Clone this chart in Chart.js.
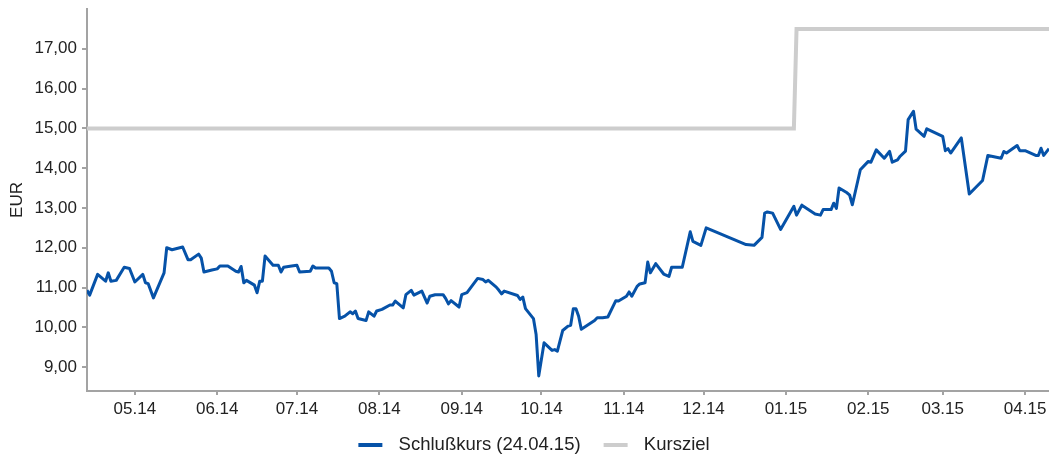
<!DOCTYPE html>
<html>
<head>
<meta charset="utf-8">
<script src="https://cdn.jsdelivr.net/npm/chart.js@4/dist/chart.umd.min.js"></script>
<style>
  html, body { margin: 0; padding: 0; background: #ffffff; }
  #wrap { width: 1049px; height: 454px; }
</style>
</head>
<body>
<div id="wrap"><canvas id="c" width="1049" height="454"></canvas></div>
<script>
const closeLabel = 'Schlußkurs (24.04.15)';
const targetLabel = 'Kursziel';
const yAxisTitle = 'EUR';

const closeDates = [
  '2014-04-13','2014-04-14','2014-04-17','2014-04-20','2014-04-21','2014-04-22','2014-04-24','2014-04-27','2014-04-29',
  '2014-05-01','2014-05-04','2014-05-05','2014-05-06','2014-05-08','2014-05-12','2014-05-13','2014-05-15','2014-05-19',
  '2014-05-21','2014-05-22','2014-05-25','2014-05-26','2014-05-27','2014-05-30',
  '2014-06-01','2014-06-02','2014-06-05','2014-06-08','2014-06-09','2014-06-10','2014-06-11','2014-06-12','2014-06-15',
  '2014-06-16','2014-06-17','2014-06-18','2014-06-19','2014-06-22','2014-06-24','2014-06-25','2014-06-26','2014-06-29',
  '2014-07-01','2014-07-02','2014-07-06','2014-07-07','2014-07-08','2014-07-13','2014-07-14','2014-07-15','2014-07-16',
  '2014-07-17','2014-07-19','2014-07-21','2014-07-22','2014-07-23','2014-07-24','2014-07-27','2014-07-28','2014-07-30','2014-07-31',
  '2014-08-02','2014-08-05','2014-08-06','2014-08-07','2014-08-10','2014-08-11','2014-08-13','2014-08-14','2014-08-17',
  '2014-08-19','2014-08-20','2014-08-22','2014-08-25','2014-08-26','2014-08-27','2014-08-28','2014-08-31',
  '2014-09-01','2014-09-03','2014-09-07','2014-09-09','2014-09-10','2014-09-11','2014-09-14','2014-09-15','2014-09-16',
  '2014-09-17','2014-09-22','2014-09-23','2014-09-24','2014-09-25','2014-09-28','2014-09-29','2014-09-30',
  '2014-10-02','2014-10-05','2014-10-06','2014-10-07','2014-10-09','2014-10-11','2014-10-12','2014-10-13','2014-10-14',
  '2014-10-15','2014-10-16','2014-10-21','2014-10-22','2014-10-24','2014-10-26','2014-10-29','2014-10-30',
  '2014-11-02','2014-11-03','2014-11-04','2014-11-06','2014-11-07','2014-11-09','2014-11-10','2014-11-11','2014-11-13',
  '2014-11-16','2014-11-18','2014-11-19','2014-11-23','2014-11-26','2014-11-27','2014-11-30',
  '2014-12-02','2014-12-17','2014-12-20','2014-12-23','2014-12-24','2014-12-25','2014-12-27','2014-12-30',
  '2015-01-04','2015-01-05','2015-01-07','2015-01-12','2015-01-14','2015-01-15','2015-01-18','2015-01-19','2015-01-20',
  '2015-01-21','2015-01-24','2015-01-25','2015-01-26','2015-01-29',
  '2015-02-01','2015-02-02','2015-02-04','2015-02-07','2015-02-09','2015-02-10','2015-02-12','2015-02-13','2015-02-15',
  '2015-02-16','2015-02-18','2015-02-19','2015-02-22','2015-02-23',
  '2015-03-01','2015-03-02','2015-03-03','2015-03-04','2015-03-08','2015-03-11','2015-03-16','2015-03-18','2015-03-23',
  '2015-03-24','2015-03-25','2015-03-29','2015-03-30',
  '2015-04-01','2015-04-05','2015-04-06','2015-04-07','2015-04-08','2015-04-10'
];
const closeValues = [
  10.93,10.81,11.33,11.16,11.37,11.16,11.18,11.51,11.48,
  11.14,11.33,11.12,11.10,10.74,11.37,12.00,11.95,12.02,
  11.70,11.70,11.84,11.74,11.39,11.44,
  11.47,11.54,11.54,11.41,11.39,11.53,11.12,11.18,11.06,
  10.87,11.16,11.16,11.79,11.56,11.56,11.39,11.51,11.54,
  11.56,11.39,11.41,11.54,11.49,11.49,11.41,11.12,11.10,
  10.22,10.28,10.39,10.34,10.41,10.22,10.17,10.39,10.28,10.41,
  10.45,10.56,10.56,10.66,10.49,10.82,10.93,10.81,10.91,
  10.61,10.78,10.82,10.82,10.72,10.59,10.67,10.51,
  10.82,10.87,11.23,11.20,11.14,11.18,11.01,10.93,10.84,
  10.91,10.80,10.70,10.76,10.47,10.22,9.82,8.78,
  9.61,9.42,9.44,9.40,9.92,10.03,10.05,10.47,10.47,
  10.28,9.95,10.17,10.24,10.24,10.26,10.67,10.66,
  10.78,10.89,10.78,11.03,11.09,11.12,11.64,11.37,11.60,
  11.34,11.28,11.51,11.51,12.40,12.16,12.06,
  12.50,12.08,12.06,12.26,12.87,12.90,12.87,12.46,
  13.04,12.82,13.07,12.85,12.82,12.96,12.96,13.12,12.99,
  13.50,13.38,13.32,13.08,13.96,
  14.17,14.15,14.46,14.25,14.42,14.15,14.21,14.30,14.43,
  15.22,15.43,14.98,14.80,14.99,
  14.80,14.44,14.49,14.38,14.76,13.35,13.69,14.32,14.25,
  14.42,14.38,14.57,14.44,
  14.44,14.32,14.32,14.50,14.32,14.49
];

const targetDates = ['2014-04-13','2015-01-04','2015-01-05','2015-04-10'];
const targetValues = [15.00, 15.00, 17.50, 17.50];

const monthTickDates = ['2014-05-01','2014-06-01','2014-07-01','2014-08-01','2014-09-01','2014-10-01',
                        '2014-11-01','2014-12-01','2015-01-01','2015-02-01','2015-03-01','2015-04-01'];
const monthTickLabels = ['05.14','06.14','07.14','08.14','09.14','10.14','11.14','12.14','01.15','02.15','03.15','04.15'];
const yTickValues = [9, 10, 11, 12, 13, 14, 15, 16, 17];

const rangeStart = '2014-04-13';
const rangeEnd = '2015-04-10';

function dayNum(s) {
  const p = s.split('-').map(Number);
  return (Date.UTC(p[0], p[1] - 1, p[2]) - Date.UTC(2014, 4, 1)) / 86400000;
}
function toPoints(dates, values) {
  return dates.map((d, i) => ({ x: dayNum(d), y: values[i] }));
}

const FONT = "'Liberation Sans', Arial, sans-serif";
const TEXT = '#222222';
const AXIS = '#a3a3a3';
const BLUE = '#0652a8';
const GREY = '#cdcdcd';

// legend swatch: 24px line with a margin on both sides
function swatch(color) {
  const c = document.createElement('canvas');
  c.width = 50; c.height = 4;
  const g = c.getContext('2d');
  g.fillStyle = color;
  g.fillRect(19, 0, 24, 4);
  return c;
}

new Chart(document.getElementById('c'), {
  type: 'line',
  data: {
    datasets: [
      {
        label: closeLabel,
        data: toPoints(closeDates, closeValues),
        borderColor: BLUE,
        backgroundColor: BLUE,
        borderWidth: 3,
        pointRadius: 0,
        pointStyle: swatch(BLUE),
        tension: 0,
        borderJoinStyle: 'round'
      },
      {
        label: targetLabel,
        data: toPoints(targetDates, targetValues),
        borderColor: GREY,
        backgroundColor: GREY,
        borderWidth: 4,
        pointRadius: 0,
        pointStyle: swatch(GREY),
        tension: 0
      }
    ]
  },
  options: {
    responsive: false,
    animation: false,
    events: [],
    layout: { padding: { top: 9, right: 0, bottom: 0, left: 0 } },
    plugins: {
      tooltip: { enabled: false },
      legend: {
        display: true,
        position: 'bottom',
        align: 'center',
        maxHeight: 22,
        labels: {
          usePointStyle: true,
          pointStyleWidth: 50,
          boxHeight: 18.5,
          padding: 4,
          color: TEXT,
          font: { family: FONT, size: 18.5 }
        }
      }
    },
    scales: {
      x: {
        type: 'linear',
        min: dayNum(rangeStart),
        max: dayNum(rangeEnd),
        afterBuildTicks: (scale) => {
          scale.ticks = monthTickDates.map(d => ({ value: dayNum(d) }));
        },
        afterFit: (scale) => { scale.height = 41; scale.paddingLeft = 0; scale.paddingRight = 0; },
        grid: {
          display: true,
          drawOnChartArea: false,
          drawTicks: true,
          tickLength: 4,
          color: AXIS,
          lineWidth: 2
        },
        border: { display: true, color: AXIS, width: 2 },
        ticks: {
          autoSkip: false,
          maxRotation: 0,
          padding: 4,
          color: TEXT,
          font: { family: FONT, size: 17 },
          callback: (v, i) => monthTickLabels[i]
        }
      },
      y: {
        type: 'linear',
        min: 8.4,
        max: 18,
        afterBuildTicks: (scale) => {
          scale.ticks = yTickValues.map(v => ({ value: v }));
        },
        afterFit: (scale) => { scale.width = 87; scale.paddingTop = 0; scale.paddingBottom = 0; },
        grid: {
          display: true,
          drawOnChartArea: false,
          drawTicks: true,
          tickLength: 5,
          color: AXIS,
          lineWidth: 2
        },
        border: { display: true, color: AXIS, width: 2 },
        title: {
          display: true,
          text: yAxisTitle,
          color: TEXT,
          font: { family: FONT, size: 17 },
          padding: { top: 7, bottom: 0 }
        },
        ticks: {
          padding: 5,
          color: TEXT,
          font: { family: FONT, size: 17 },
          callback: (v) => v.toFixed(2).replace('.', ',')
        }
      }
    }
  }
});
</script>
</body>
</html>
